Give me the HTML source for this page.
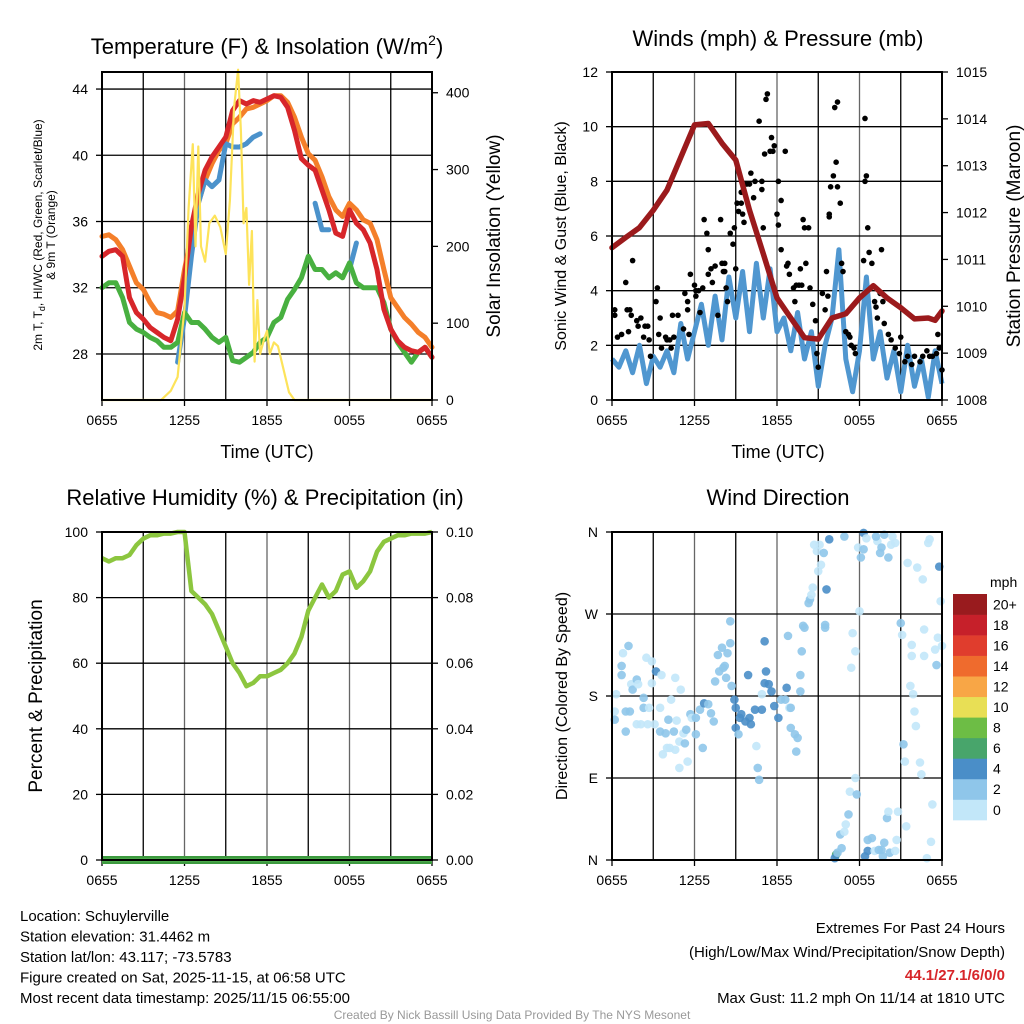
<!DOCTYPE html>
<html><head><meta charset="utf-8">
<style>
body{margin:0;background:#fff;}
svg{display:block;font-family:"Liberation Sans",sans-serif;}
</style></head>
<body>
<svg id="c" width="1024" height="1024" viewBox="0 0 1024 1024"></svg>
<script>
// ---------- DATA ----------
const hoursHalf = []; for (let i = 0; i <= 48; i++) hoursHalf.push(i / 2);
const timeTicks = ["0655", "1255", "1855", "0055", "0655"];
const tempTicks = [28, 32, 36, 40, 44];
const solarTicks = [0, 100, 200, 300, 400];
const temp9m = [35.1,35.2,34.9,34.3,33.3,32.3,31.9,31.1,30.5,30.4,30.2,30.6,33.1,35.1,37.1,38.5,39.5,40.3,40.7,41.9,42.3,42.8,42.9,43.1,43.3,43.6,43.6,43.2,42.3,41.1,40.1,39.7,38.7,37.5,36.7,36.3,37.1,36.7,36.1,35.9,34.9,33.1,31.4,30.8,30.2,29.8,29.3,29.0,28.4];
const temp2m = [33.9,34.2,34.3,33.9,31.4,30.5,30.1,29.6,29.3,29.0,28.8,30.1,32.6,35.7,37.7,39.1,39.9,40.5,41.1,42.7,43.3,43.1,43.3,43.2,43.4,43.6,43.5,42.9,41.5,39.8,39.4,39.1,37.9,36.7,35.3,35.1,36.7,35.9,35.5,34.7,33.1,30.7,29.5,28.8,28.4,28.2,28.1,28.4,27.8];
const dewpoint = [32.0,32.3,32.3,31.4,29.9,29.5,29.3,29.0,28.8,28.4,28.4,28.7,30.5,29.9,29.9,29.5,29.0,28.7,29.0,27.6,27.5,27.8,28.1,28.7,29.0,29.9,30.2,31.3,31.9,32.6,33.9,33.1,33.1,32.6,32.9,32.6,33.5,32.3,32.0,32.0,32.0,31.1,29.5,28.7,28.1,27.5,28.1,28.4,27.8];
const windChill = [null,null,null,null,null,null,null,null,null,null,null,27.5,30.2,33.9,37.1,38.5,38.1,38.5,40.7,40.5,40.5,40.7,41.1,41.3,null,null,41.3,null,null,null,null,37.1,35.5,35.5,null,null,33.1,34.7,null,null,null,null,null,null,null,null,null,null,null];
const solarHours = [0,4.3,5,5.5,6,6.3,6.6,6.8,7,7.2,7.5,7.8,8.2,8.6,9,9.3,9.6,9.9,10.1,10.3,10.5,10.7,10.9,11.1,11.3,11.5,11.8,12,12.2,12.5,12.8,13.2,13.6,14,24];
const solarValues = [0,0,12,30,120,250,333,200,330,200,180,230,240,225,190,260,380,430,350,230,250,150,220,50,130,60,80,90,60,75,70,40,10,0,0];

const windTicks = [0,2,4,6,8,10,12];
const pressTicks = [1008,1009,1010,1011,1012,1013,1014,1015];
const pressHours = [0,1,2,3,4,5,6,7,8,9,10,11,12,13,14,15,16,17,18,19,20,21,22,23,23.5,24];
const pressure = [1011.25,1011.47,1011.68,1012.05,1012.48,1013.18,1013.87,1013.9,1013.48,1013.12,1012.05,1011.12,1010.18,1009.75,1009.33,1009.3,1009.75,1009.84,1010.18,1010.44,1010.18,1009.97,1009.73,1009.75,1009.7,1009.9];
const sonicWind = [1.5,1.2,1.8,1.0,2.0,0.6,1.6,1.2,1.8,1.0,2.8,1.5,2.5,3.5,2.0,3.8,2.2,4.5,3.0,4.7,2.5,5.0,3.0,4.8,2.5,3.0,1.8,3.2,1.5,2.5,0.5,2.0,3.0,5.5,1.5,0.3,1.8,4.5,1.5,2.5,0.8,1.8,0.3,2.0,0.5,1.5,0.1,1.8,0.6];
const gustHours = [0.2,0.2,0.4,0.7,1.0,1.1,1.3,1.4,1.5,1.2,1.8,1.9,2.1,2.3,2.4,2.6,2.7,2.8,3.2,3.3,3.4,3.5,3.6,3.9,4.0,4.2,4.3,4.5,4.4,4.8,5.2,5.3,5.5,5.5,5.6,5.7,6.0,6.1,6.1,6.3,6.4,6.6,6.7,6.9,7.0,7.0,7.2,7.3,7.5,7.7,7.9,8.0,8.1,8.2,8.2,8.3,8.4,8.6,8.8,8.9,9.0,9.1,9.2,9.4,9.4,9.5,9.6,9.8,10.0,10.1,10.3,10.4,10.7,10.9,10.9,11.0,11.1,11.2,11.3,11.5,11.6,11.7,11.8,12.0,12.1,12.1,12.3,12.3,12.6,12.7,12.8,12.9,13.2,13.3,13.4,13.6,13.7,13.8,13.9,14.0,14.1,14.3,14.4,14.6,14.8,14.9,15.0,15.3,15.5,15.6,15.7,15.8,15.8,15.9,16.1,16.2,16.3,16.4,16.4,16.6,16.7,16.8,17.0,17.2,17.3,17.4,17.6,17.7,18.3,18.4,18.5,18.4,18.6,18.7,18.9,19.1,19.2,19.3,19.5,19.6,19.7,19.8,20.1,20.3,20.6,20.9,21.0,21.3,21.5,21.8,22.0,22.4,22.6,22.9,23.1,23.3,23.6,23.7,23.8,24.0];
const gustValues = [3.3,3.1,2.3,2.4,4.3,3.3,3.3,3.1,5.1,2.5,2.9,2.7,3.0,2.3,2.7,2.7,2.2,1.6,3.6,4.1,2.4,3.0,1.9,2.3,2.2,2.2,1.9,2.3,3.1,3.1,2.6,3.9,3.3,3.6,2.4,4.6,4.2,4.0,3.8,4.0,3.2,4.1,6.6,6.1,5.5,4.6,4.8,4.3,4.9,3.1,6.6,5.0,4.7,4.7,5.0,4.1,3.6,6.1,5.7,6.3,4.8,7.2,6.9,7.6,7.2,6.8,6.5,7.9,7.9,8.3,7.4,8.0,10.2,8.0,7.7,6.3,9.0,11.0,11.2,9.1,9.6,9.1,9.3,6.8,6.4,8.0,7.3,5.5,9.1,4.9,5.0,4.6,4.1,3.6,4.2,4.2,4.8,4.2,6.6,6.3,5.0,6.3,4.1,3.5,2.9,1.7,1.2,3.9,3.3,4.7,3.8,6.7,6.8,7.8,8.2,10.7,8.7,10.9,7.8,7.2,5.0,4.7,2.5,2.4,2.3,2.0,1.9,1.7,5.1,10.3,8.2,8.0,6.3,5.4,5.0,3.6,3.4,3.0,3.9,5.5,3.6,2.8,2.4,2.2,1.9,1.7,2.3,1.4,1.6,1.3,1.6,1.4,1.6,1.8,1.6,1.6,1.7,2.4,1.9,1.1];

const rhTicks = [0,20,40,60,80,100];
const precipTicks = ["0.00","0.02","0.04","0.06","0.08","0.10"];
const rhValues = [92,91,92,92,93,96,98,99,99,99.5,99.5,100,100,82,80,78,75,70,65,60,57,53,54,56,56,57,58,60,63,68,76,80,84,80,82,87,88,83,85,88,94,97,98,99,99,99.5,99.5,99.5,100];
const precipValues = new Array(49).fill(0);

const dirTicks = ["N","E","S","W","N"];
const dirHours = [0.3,0.2,0.2,0.7,0.8,1.2,0.7,1.0,1.3,1.0,1.4,1.5,1.8,1.9,1.8,2.1,2.3,2.3,2.5,2.6,2.7,2.9,2.9,3.1,3.2,3.5,3.5,3.6,3.7,3.9,4.0,4.1,4.2,4.3,4.5,4.6,4.6,4.7,4.9,4.9,5.0,5.2,5.3,5.4,5.5,5.7,5.8,6.1,6.1,6.4,6.6,6.7,7.0,7.2,7.4,7.5,7.7,7.8,8.0,8.1,8.2,8.3,8.4,8.6,8.6,8.7,8.9,9.0,9.0,9.2,9.3,9.4,9.7,9.9,10.0,10.1,10.4,10.5,10.6,10.7,10.9,10.9,11.1,11.1,11.2,11.4,11.6,11.8,12.1,12.3,12.6,12.7,12.8,12.9,13.0,13.0,13.3,13.4,13.5,13.7,13.7,13.8,13.9,14.0,14.3,14.4,14.5,14.6,14.9,14.7,15.1,15.4,15.2,15.0,15.5,15.5,15.6,15.8,16.3,16.2,16.4,16.7,16.6,16.9,17.0,17.2,17.3,17.7,17.8,17.5,17.7,17.4,16.9,17.9,18.0,18.1,18.3,18.3,18.5,18.4,18.6,18.6,18.9,19.1,19.4,19.6,19.7,19.8,20.0,20.1,20.2,20.6,20.7,20.8,21.0,21.1,21.2,21.3,21.4,21.5,21.7,21.8,21.8,21.9,22.0,22.1,22.2,22.4,22.5,22.6,22.7,22.7,22.9,23.0,23.1,23.2,23.3,23.5,23.6,23.7,23.8,23.9,24.0,20.6,20.1,19.3,19.6,19.5,19.2,19.8,20.3,20.4];
const dirDegrees = [182,163,154,203,227,235,213,163,163,141,193,187,198,193,149,149,178,167,222,149,167,218,194,149,207,141,167,203,116,139,123,154,123,176,141,121,200,153,130,101,187,139,128,143,108,160,156,138,156,165,123,172,171,161,152,196,225,207,233,211,213,200,227,238,262,191,176,167,145,138,156,160,152,203,156,149,165,125,101,88,165,182,240,194,207,193,185,169,156,176,176,189,246,167,167,145,138,119,134,185,203,229,257,255,282,286,291,299,339,346,346,337,324,317,258,255,297,352,6,2,8,13,28,31,39,50,75,90,72,249,229,211,355,343,273,332,341,359,353,4,10,22,24,10,11,11,4,19,46,53,8,10,22,53,260,247,127,108,37,326,191,236,224,182,163,147,321,107,94,308,253,224,2,348,352,20,61,231,214,244,322,284,235,348,332,350,343,337,355,357,346,355];
const dirSpeeds = [1,1,3,3,1,3,3,3,3,3,1,3,3,1,1,1,3,3,1,1,1,1,1,1,4,3,1,1,1,3,1,3,1,1,3,1,1,1,1,1,1,1,3,3,1,3,1,3,3,3,3,5,3,3,3,3,3,3,3,3,3,3,3,3,3,3,5,5,5,3,5,5,5,5,5,5,5,1,3,3,5,1,5,5,5,5,5,5,5,3,3,5,3,1,3,3,3,3,3,3,3,3,3,3,3,3,1,1,1,1,1,3,1,1,3,3,4,4,6,4,3,3,3,1,1,3,1,1,3,1,1,1,3,1,1,3,3,4,1,4,4,3,3,1,3,3,3,3,3,1,3,1,1,1,3,1,3,1,1,1,1,1,1,1,1,1,1,1,1,1,1,1,1,1,1,1,1,1,3,1,4,1,1,1,3,1,3,3,3,3,1,1,1];
const cbLabels = ["0","2","4","6","8","10","12","14","16","18","20+"];
const cbColors = ["#c2e7f9","#8fc6ea","#4a8ec8","#48a56b","#6dbd45","#e8df55","#f8a646","#ef6b2d","#e03d2d","#c6202a","#991b1e"];

// ---------- HELPERS ----------
const NS = "http://www.w3.org/2000/svg";
const svg = document.getElementById("c");
function mk(tag, attrs, parent, text) {
  const e = document.createElementNS(NS, tag);
  for (const k in attrs) e.setAttribute(k, attrs[k]);
  if (text !== undefined) e.textContent = text;
  (parent || svg).appendChild(e);
  return e;
}
const PW = 330, PH = 328;
function xScale(x0) { return h => x0 + h * PW / 24; }
function yScale(y0, lo, hi) { return v => y0 + PH - (v - lo) / (hi - lo) * PH; }
function pathFrom(xs, ys, fx, fy) {
  let d = "", pen = false;
  for (let i = 0; i < xs.length; i++) {
    if (ys[i] === null) { pen = false; continue; }
    d += (pen ? "L" : "M") + fx(xs[i]).toFixed(1) + "," + fy(ys[i]).toFixed(1);
    pen = true;
  }
  return d;
}
function frame(g, x0, y0, fy, leftTicks, leftVals, rightTicks, rightVals, fyR, timeLabels) {
  const fx = xScale(x0);
  // vertical grid
  for (let k = 1; k < 8; k++) {
    const x = fx(k * 3);
    const l = mk("line", {x1:x, y1:y0, x2:x, y2:y0+PH, stroke:(k%2==0 ? "#666" : "#000"), "stroke-width":1.3}, g);
    
    
  }
  leftVals.forEach((v, i) => {
    const y = fy(v);
    if (y > y0 + 1 && y < y0 + PH - 1) {
      const l = mk("line", {x1:x0, y1:y, x2:x0+PW, y2:y, stroke:"#000", "stroke-width":1.3}, g);
      
      
    }
    const t = mk("text", {x:x0-14, y:y+5, "text-anchor":"end", "font-size":14}, g, leftTicks[i]);
    
    
    mk("line", {x1:x0-6, y1:y, x2:x0, y2:y, stroke:"#000", "stroke-width":1.3}, g);
  });
  if (rightTicks) rightVals.forEach((v, i) => {
    const y = fyR(v);
    const t = mk("text", {x:x0+PW+14, y:y+5, "text-anchor":"start", "font-size":14}, g, rightTicks[i]);
    
    
    mk("line", {x1:x0+PW, y1:y, x2:x0+PW+6, y2:y, stroke:"#000", "stroke-width":1.3}, g);
  });
  timeLabels.forEach((s, i) => {
    const x = fx(i * 6);
    const t = mk("text", {x:x, y:y0+PH+25, "text-anchor":"middle", "font-size":14}, g, s);
    
    
    mk("line", {x1:x, y1:y0+PH, x2:x, y2:y0+PH+6, stroke:"#000", "stroke-width":1.3}, g);
  });
}
function border(g, x0, y0) {
  const r = mk("rect", {x:x0, y:y0, width:PW, height:PH, fill:"none", stroke:"#000", "stroke-width":2}, g);
  
  
}
function label(g, x, y, s, size, rot, name, extra) {
  const a = {x:x, y:y, "text-anchor":"middle", "font-size":size};
  if (rot) a.transform = "rotate(-90 " + x + " " + y + ")";
  Object.assign(a, extra || {});
  const t = mk("text", a, g, s);
  
  
  return t;
}

// ---------- PANEL 1: TEMPERATURE ----------
(function(){
  const g = mk("g", {});  
  const x0 = 102, y0 = 72;
  const fx = xScale(x0), fy = yScale(y0, 25.22, 45.03), fyS = yScale(y0, 0, 427);
  frame(g, x0, y0, fy, tempTicks, tempTicks, solarTicks, solarTicks, fyS, timeTicks);
  const series = [[temp9m, "#f47f2a", "orange-9m-temp-line"], [windChill, "#4b92cb", "wind-chill-line"], [dewpoint, "#48b040", "dewpoint-line"], [temp2m, "#d7262a", "temp-2m-line"]];
  series.forEach(s => {
    const p = mk("path", {d:pathFrom(hoursHalf, s[0], fx, fy), fill:"none", stroke:s[1], "stroke-width":5, "stroke-linejoin":"round", "stroke-linecap":"round"}, g);
    
    
  });
  const sp = mk("path", {d:pathFrom(solarHours, solarValues, fx, fyS), fill:"none", stroke:"#fde35a", "stroke-width":2.2, "stroke-linejoin":"round"}, g);
  
  
  border(g, x0, y0);
  const tt = label(g, 267, 54, "", 22, false, "temperature-title");
  tt.innerHTML = 'Temperature (F) &amp; Insolation (W/m<tspan dy="-9" font-size="14">2</tspan><tspan dy="9">)</tspan>';
  label(g, 267, 458, "Time (UTC)", 18, false, "x-axis-title");
  label(g, 42, 235, "2m T, T", 12, true, "left-axis-title-line1").innerHTML = '2m T, T<tspan dy="3" font-size="9">d</tspan><tspan dy="-3">, HI/WC (Red, Green, Scarlet/Blue)</tspan>';
  label(g, 55, 235, "& 9m T (Orange)", 12, true, "left-axis-title-line2");
  label(g, 500, 236, "Solar Insolation (Yellow)", 19, true, "right-axis-title");
})();

// ---------- PANEL 2: WINDS ----------
(function(){
  const g = mk("g", {});  
  const x0 = 612, y0 = 72;
  const fx = xScale(x0), fy = yScale(y0, 0, 12), fyP = yScale(y0, 1008, 1015);
  frame(g, x0, y0, fy, windTicks, windTicks, pressTicks, pressTicks, fyP, timeTicks);
  const wl = mk("path", {d:pathFrom(hoursHalf, sonicWind, fx, fy), fill:"none", stroke:"#5097d0", "stroke-width":5, "stroke-linejoin":"round"}, g);
  
  
  gustHours.forEach((h, i) => {
    const c = mk("circle", {cx:fx(h), cy:fy(gustValues[i]), r:2.8, fill:"#000"}, g);
    
    
  });
  const pl = mk("path", {d:pathFrom(pressHours, pressure, fx, fyP), fill:"none", stroke:"#9b1a1c", "stroke-width":5.5, "stroke-linejoin":"round", "stroke-linecap":"round"}, g);
  
  
  border(g, x0, y0);
  label(g, 778, 46, "Winds (mph) & Pressure (mb)", 22, false, "winds-title");
  label(g, 778, 458, "Time (UTC)", 18, false, "x-axis-title");
  label(g, 566, 236, "Sonic Wind & Gust (Blue, Black)", 16, true, "left-axis-title");
  label(g, 1020, 236, "Station Pressure (Maroon)", 19, true, "right-axis-title");
})();

// ---------- PANEL 3: RH ----------
(function(){
  const g = mk("g", {});  
  const x0 = 102, y0 = 532;
  const fx = xScale(x0), fy = yScale(y0, 0, 100), fyR = yScale(y0, 0, 0.1);
  frame(g, x0, y0, fy, rhTicks, rhTicks, precipTicks, precipTicks.map(Number), fyR, timeTicks);
  const pr = mk("path", {d:pathFrom(hoursHalf, precipValues, fx, fyR), fill:"none", stroke:"#3d9a3f", "stroke-width":8}, g);
  
  
  const pr2 = mk("path", {d:pathFrom(hoursHalf, precipValues, fx, fyR), fill:"none", stroke:"#5cb85a", "stroke-width":3}, g);
  
  
  const rl = mk("path", {d:pathFrom(hoursHalf, rhValues, fx, fy), fill:"none", stroke:"#8cc63f", "stroke-width":4.5, "stroke-linejoin":"round"}, g);
  
  
  border(g, x0, y0);
  label(g, 265, 505, "Relative Humidity (%) & Precipitation (in)", 22, false, "humidity-title");
  label(g, 42, 696, "Percent & Precipitation", 19, true, "left-axis-title");
})();

// ---------- PANEL 4: WIND DIRECTION ----------
(function(){
  const g = mk("g", {});  
  const x0 = 612, y0 = 532;
  const fx = xScale(x0), fy = yScale(y0, 0, 360);
  frame(g, x0, y0, fy, dirTicks, [0, 90, 180, 270, 360], null, null, null, timeTicks);
  dirHours.forEach((h, i) => {
    const sp = dirSpeeds[i];
    const col = cbColors[Math.min(10, Math.floor(sp / 2))];
    const c = mk("circle", {cx:fx(h), cy:fy(dirDegrees[i]), r:4.3, fill:col, "fill-opacity":0.9}, g);
    
    
  });
  border(g, x0, y0);
  label(g, 778, 505, "Wind Direction", 22, false, "wind-direction-title");
  label(g, 567, 696, "Direction (Colored By Speed)", 16, true, "left-axis-title");
  // colorbar
  const cb = mk("g", {}, g);  
  const segH = 20.55, cbTop = 594;
  cbColors.forEach((col, i) => {
    const y = cbTop + (10 - i) * segH;
    const r = mk("rect", {x:953, y:y, width:34, height:segH+0.3, fill:col}, cb);
    
    
    const t = mk("text", {x:993, y:y + segH/2 + 5, "font-size":14}, cb, cbLabels[i]);
    
    
  });
  const mph = mk("text", {x:990, y:587, "font-size":14}, cb, "mph");
  
  
})();

// ---------- FOOTER ----------
(function(){
  const g = mk("g", {});  
  const lines = ["Location: Schuylerville", "Station elevation: 31.4462 m", "Station lat/lon: 43.117; -73.5783", "Figure created on Sat, 2025-11-15, at 06:58 UTC", "Most recent data timestamp: 2025/11/15 06:55:00"];
  lines.forEach((s, i) => {
    const t = mk("text", {x:20, y:921 + i*20.5, "font-size":15}, g, s);
    
    
  });
  const r = [["Extremes For Past 24 Hours", 933, "#000", "normal"], ["(High/Low/Max Wind/Precipitation/Snow Depth)", 957, "#000", "normal"], ["44.1/27.1/6/0/0", 980, "#d7262a", "bold"], ["Max Gust: 11.2 mph On 11/14 at 1810 UTC", 1003, "#000", "normal"]];
  r.forEach(a => {
    const t = mk("text", {x:1005, y:a[1], "font-size":15, "text-anchor":"end", fill:a[2], "font-weight":a[3]}, g, a[0]);
    
    
  });
  const cr = mk("text", {x:512, y:1019, "font-size":12, "text-anchor":"middle", fill:"#999"}, g, "Created By Nick Bassill Using Data Provided By The NYS Mesonet");
  
  
})();
</script>
</body></html>
